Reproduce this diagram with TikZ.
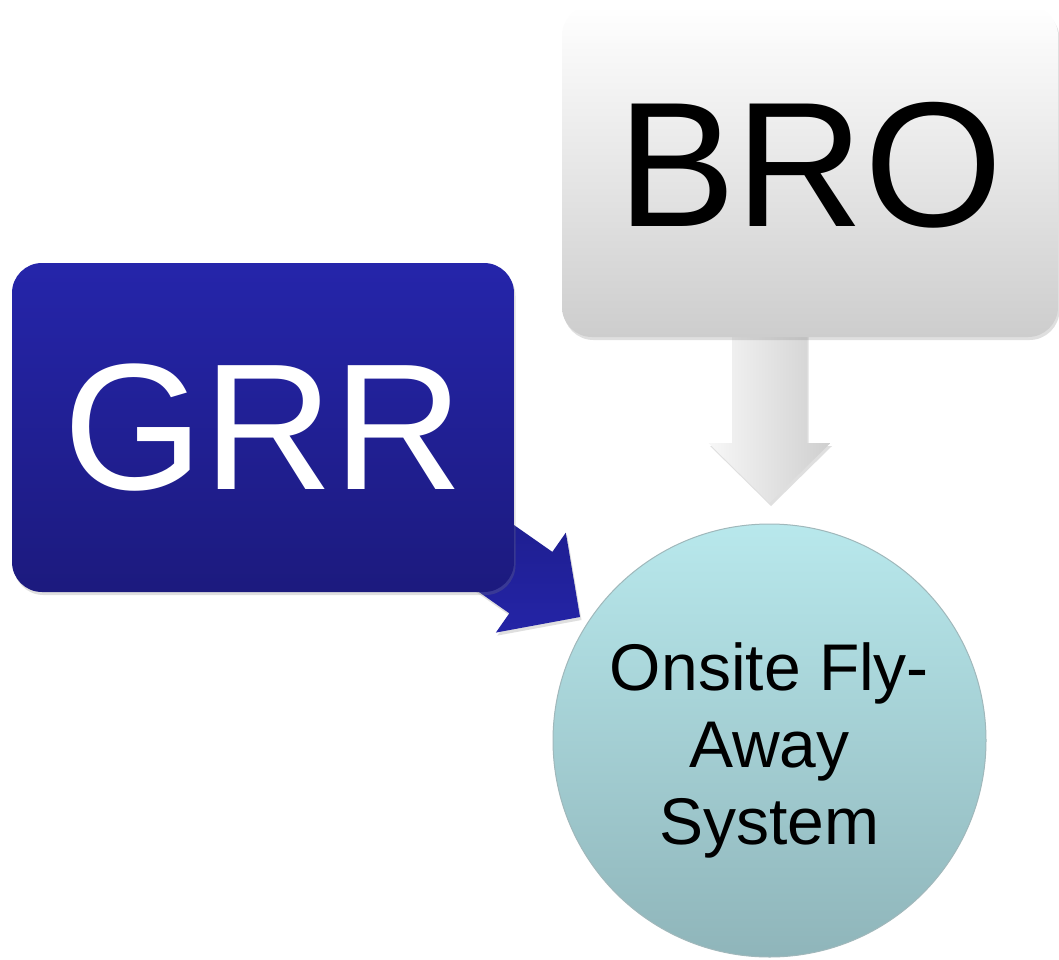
\documentclass[tikz,border=0pt]{standalone}
\usepackage{fontspec}
\setmainfont{Liberation Sans}
\usetikzlibrary{calc,shadows}

\definecolor{grrtop}{RGB}{37,37,170}
\definecolor{grrbot}{RGB}{28,26,126}
\definecolor{grrarrowA}{RGB}{28,28,136}
\definecolor{grrarrowB}{RGB}{36,36,166}
\definecolor{brobot}{RGB}{205,205,205}
\definecolor{bromid}{RGB}{238,238,238}
\definecolor{circtop}{RGB}{184,232,236}
\definecolor{circbot}{RGB}{143,181,186}
\definecolor{circline}{RGB}{160,184,187}

\tikzset{
  softshadow/.style={drop shadow={opacity=0.25, shadow xshift=1.5pt, shadow yshift=-3pt}},
  boxnode/.style={rectangle, rounded corners=30pt, inner sep=0pt, softshadow},
  grrbox/.style={boxnode, top color=grrtop, bottom color=grrbot, text=white,
    font=\fontsize{180}{200}\selectfont},
  brobox/.style={boxnode, top color=white, middle color=bromid, bottom color=brobot,
    text=black, font=\fontsize{178}{200}\selectfont, text depth=15pt},
  targetcircle/.style={circle, inner sep=0pt, top color=circtop, bottom color=circbot,
    draw=circline, line width=1pt},
  flytext/.style={align=center, text=black, inner sep=0pt,
    font=\fontsize{66}{77}\selectfont},
  grayarrow/.style={left color=black!3, right color=black!19, softshadow},
  bluearrow/.style={top color=grrarrowA, bottom color=grrarrowB, softshadow},
}

% block arrow from #2 to tip #3: shaft half-width 37.5, head half-width 61, head length 60
\newcommand\blockarrow[3]{%
  \coordinate (ba-h) at ($(#3)!60pt!(#2)$);
  \path[#1] ($(#2)!37.5pt!90:(#3)$) -- ($(ba-h)!37.5pt!-90:(#2)$)
    -- ($(ba-h)!61pt!-90:(#2)$) -- (#3) -- ($(ba-h)!61pt!90:(#2)$)
    -- ($(ba-h)!37.5pt!90:(#2)$) -- ($(#2)!37.5pt!-90:(#3)$) -- cycle;
}

\begin{document}
\begin{tikzpicture}[x=1pt,y=-1pt]
  \fill[white] (0,0) rectangle (1059,960);
  \useasboundingbox (0,0) rectangle (1059,960);

  % centre of the fly-away system circle
  \coordinate (circ-c) at (769.5,740.5);

  % BRO arrow, then its box on top
  \coordinate (broFoot) at (769.5,171.5);
  \coordinate (circTop) at (769.5,503);
  \blockarrow{grayarrow}{broFoot}{circTop}
  \node[brobox, minimum width=496pt, minimum height=331pt] (bro) at (810,171.5) {BRO};

  % GRR arrow, then its box on top
  \coordinate (grrFoot) at (420,505);
  \coordinate (circLeft) at (580,617);
  \blockarrow{bluearrow}{grrFoot}{circLeft}
  \node[grrbox, minimum width=502pt, minimum height=329pt] (grr) at (263,427.5) {GRR};

  % fly-away system
  \node[targetcircle, minimum size=433pt] (circ) at (circ-c) {};
  \node[flytext] (circtext) at ($(circ.center)+(0,9.5)$) {Onsite Fly-\\Away\\System};
\end{tikzpicture}
\end{document}
